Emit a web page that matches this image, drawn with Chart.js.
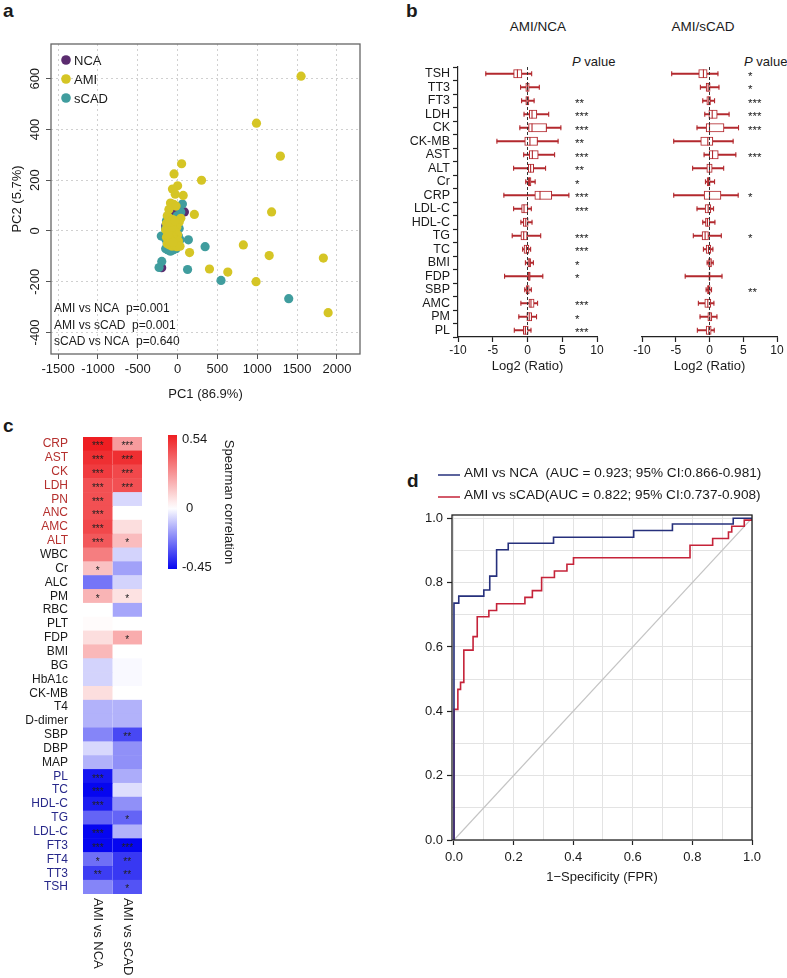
<!DOCTYPE html>
<html>
<head>
<meta charset="utf-8">
<title>Figure</title>
<script src="https://cdn.jsdelivr.net/npm/chart.js@4.4.1/dist/chart.umd.min.js"></script>
<style>
  body { margin: 0; background: #fff; font-family: "Liberation Sans", Arial, sans-serif; color: #1a1a1a; }
  #page { position: relative; width: 787px; height: 978px; overflow: hidden; }
  .panel { position: absolute; }
  .letter { position: absolute; font-size: 19px; font-weight: bold; }
  .txt { position: absolute; font-size: 13px; white-space: nowrap; }
  .center { transform: translateX(-50%); }
</style>
</head>
<body>
<div id="page">
  <div class="letter" style="left:3px;top:0px">a</div>
  <div class="letter" style="left:406px;top:0px">b</div>
  <div class="letter" style="left:3px;top:415px">c</div>
  <div class="letter" style="left:407px;top:470px">d</div>

  <div class="txt center" style="left:538px;top:19px;font-size:13.5px">AMI/NCA</div>
  <div class="txt center" style="left:703px;top:19px;font-size:13.5px">AMI/sCAD</div>
  <div class="txt" style="left:572px;top:54px"><i>P</i> value</div>
  <div class="txt" style="left:744px;top:54px"><i>P</i> value</div>

  <div class="panel" style="left:0;top:0;width:387px;height:410px"><canvas id="pca"></canvas></div>
  <div class="panel" style="left:390px;top:55px;width:220px;height:322px"><canvas id="boxNCA"></canvas></div>
  <div class="panel" style="left:620px;top:55px;width:167px;height:322px"><canvas id="boxSCAD"></canvas></div>
  <div class="panel" style="left:0;top:420px;width:260px;height:558px"><canvas id="heat"></canvas></div>
  <div class="panel" style="left:390px;top:460px;width:380px;height:435px"><canvas id="roc"></canvas></div>
</div>

<script>
// ---------- a: PCA scores ----------
const legendOrder = ["NCA", "AMI", "sCAD"];
const ncaPC1 = [-50, 85, -200, -100, -70, -120, -60, -40, -90, -140, -80, -30, -110, -20, -150, -95];
const ncaPC2 = [75, 75, -145, 10, -20, -40, 30, -10, 50, -10, -50, 20, -65, -45, 20, -25];
const amiPC1 = [1550, 990, 1290, 50, -45, 300, 0, -65, 70, -30, 1180, 210, 825, 1150, 1830, 150, 400, 630, 985, 1890,
  -90, -50, -20, -110, 40, 20, -130, -100, -60, -140, -110, -80, -40, -10, -150, -120, -90, -60, -30, 0,
  -140, -110, -80, -50, -20, 10, -130, -100, -70, -40, -10, 30, -85, -55, -125, -65, -95, -35];
const amiPC2 = [610, 425, 295, 265, 225, 200, 178, 165, 140, 145, 75, 65, -55, -97, -107, -85, -150, -162, -200, -322,
  110, 105, 98, 85, 50, 35, 60, 50, 45, 30, 25, 20, 25, 15, 5, 0, -5, 0, -5, -15,
  -25, -30, -30, -25, -35, -40, -50, -55, -60, -55, -62, -60, -40, -45, -15, 15, 35, 40];
const scadPC1 = [60, 40, -205, 135, 345, 125, 545, 1395, -199, -233,
  -140, -150, -130, -150, -120, -145, -140, -60, -20, 10, 20, 0, -45, -135, -155, -120, -140, -90, 30, -5];
const scadPC2 = [106, 75, -20, -35, -62, -152, -195, -267, -120, -144,
  -20, 10, -50, -70, -75, -35, 40, -75, -70, -20, 10, 40, -70, -5, -25, 55, 30, -80, -35, 60];
const pcaXTicks = [-1500, -1000, -500, 0, 500, 1000, 1500, 2000];
const pcaYTicks = [-400, -200, 0, 200, 400, 600];
const pcaTests = ["AMI vs NCA  p=0.001", "AMI vs sCAD  p=0.001", "sCAD vs NCA  p=0.640"];

// ---------- b: log2 ratio box plots ----------
const markers = ["TSH", "TT3", "FT3", "LDH", "CK", "CK-MB", "AST", "ALT", "Cr", "CRP",
  "LDL-C", "HDL-C", "TG", "TC", "BMI", "FDP", "SBP", "AMC", "PM", "PL"];
const ncaLo  = [-6.0, -1.0, -0.85, -0.5, -1.1, -4.4, -0.55, -2.0, -0.25, -3.4, -2.0, -0.95, -2.2, -0.7, -0.3, -3.3, -0.4, -0.95, -1.25, -1.9];
const ncaQ1  = [-2.0, -0.25, -0.25, 0.25, 0.15, -0.4, 0.25, 0.1, 0.1, 1.05, -0.85, -0.6, -0.95, -0.5, 0.05, 0.1, -0.2, 0.2, -0.1, -0.6];
const ncaMed = [-1.45, 0, -0.05, 0.65, 0.65, 0.35, 0.7, 0.45, 0.3, 1.8, -0.5, -0.25, -0.55, -0.15, 0.25, 0.25, 0, 0.5, 0.25, -0.3];
const ncaQ3  = [-0.8, 0.25, 0.2, 1.35, 2.75, 1.45, 1.55, 0.9, 0.5, 3.5, 0.05, 0.1, -0.05, 0.2, 0.45, 0.4, 0.25, 0.95, 0.6, 0.1];
const ncaHi  = [0.6, 1.7, 0.95, 3.05, 4.8, 4.4, 3.9, 2.6, 1.1, 5.95, 0.55, 0.65, 1.9, 0.45, 0.85, 2.2, 0.55, 1.45, 1.3, 0.5];
const ncaSig = ["", "", "**", "***", "***", "**", "***", "**", "*", "***", "***", "", "***", "***", "*", "*", "", "***", "*", "***"];
const scadLo  = [-5.6, -1.35, -1.0, -0.7, -1.85, -5.3, -0.8, -2.5, -0.6, -5.3, -1.85, -1.0, -2.4, -0.9, -0.35, -3.6, -0.5, -1.65, -1.4, -1.8];
const scadQ1  = [-1.6, -0.5, -0.4, -0.1, -0.5, -1.3, -0.05, -0.4, -0.35, -0.8, -0.65, -0.6, -1.1, -0.5, -0.15, -0.1, -0.3, -0.7, -0.25, -0.5];
const scadMed = [-0.9, -0.2, -0.1, 0.4, 0, -0.25, 0.45, 0, -0.15, 0, -0.2, -0.3, -0.65, -0.15, 0.05, 0, -0.15, -0.25, 0.05, -0.1];
const scadQ3  = [-0.35, 0.1, 0.15, 1.15, 2.15, 0.5, 1.3, 0.4, 0.1, 1.7, 0.2, 0.05, -0.15, 0.2, 0.3, 0.1, 0.1, 0.2, 0.35, 0.25];
const scadHi  = [1.25, 1.4, 0.75, 2.9, 4.3, 3.5, 3.9, 2.1, 0.75, 4.25, 0.6, 0.8, 1.75, 0.5, 0.55, 1.85, 0.3, 0.65, 1.1, 0.7];
const scadSig = ["*", "*", "***", "***", "***", "", "***", "", "", "*", "", "", "*", "", "", "", "**", "", "", ""];

// ---------- c: Spearman correlation heatmap ----------
const corrVars = ["CRP", "AST", "CK", "LDH", "PN", "ANC", "AMC", "ALT", "WBC", "Cr", "ALC", "PM", "RBC", "PLT", "FDP",
  "BMI", "BG", "HbA1c", "CK-MB", "T4", "D-dimer", "SBP", "DBP", "MAP", "PL", "TC", "HDL-C", "TG", "LDL-C",
  "FT3", "FT4", "TT3", "TSH"];
const corrNCA  = [0.54, 0.50, 0.47, 0.42, 0.42, 0.42, 0.44, 0.40, 0.31, 0.15, -0.25, 0.18, 0.0, 0.01, 0.08,
  0.17, -0.08, -0.08, 0.08, -0.14, -0.14, -0.22, -0.07, -0.14, -0.42, -0.45, -0.41, -0.28, -0.45,
  -0.45, -0.26, -0.35, -0.22];
const corrSCAD = [0.24, 0.50, 0.44, 0.42, -0.07, 0.0, 0.08, 0.16, -0.08, -0.17, -0.08, 0.07, -0.16, 0.0, 0.2,
  0.0, -0.01, -0.01, 0.0, -0.14, -0.14, -0.33, -0.2, -0.2, -0.15, -0.06, -0.2, -0.28, -0.14,
  -0.45, -0.36, -0.36, -0.31];
const sigCorrNCA  = ["***", "***", "***", "***", "***", "***", "***", "***", "", "*", "", "*", "", "", "",
  "", "", "", "", "", "", "", "", "", "***", "***", "***", "", "***", "***", "*", "**", ""];
const sigCorrSCAD = ["***", "***", "***", "***", "", "", "", "*", "", "", "", "*", "", "", "*",
  "", "", "", "", "", "", "**", "", "", "", "", "", "*", "", "***", "**", "**", "*"];
const upVars = ["CRP", "AST", "CK", "LDH", "PN", "ANC", "AMC", "ALT"];
const downVars = ["PL", "TC", "HDL-C", "TG", "LDL-C", "FT3", "FT4", "TT3", "TSH"];
const compLabels = ["AMI vs NCA", "AMI vs sCAD"];
const cbLimits = [-0.45, 0.54];
const cbTicks = [0.54, 0, -0.45];

// ---------- d: ROC ----------
const rocLabels = ["AMI vs NCA  (AUC = 0.923; 95% CI:0.866-0.981)", "AMI vs sCAD(AUC = 0.822; 95% CI:0.737-0.908)"];
const fprNCA = [0, 0, 0.016, 0.1, 0.12, 0.143, 0.182, 0.334, 0.603, 0.733, 0.937, 1.0];
const tprNCA = [0, 0.736, 0.758, 0.777, 0.82, 0.902, 0.922, 0.941, 0.962, 0.982, 1.0, 1.0];
const fprSCAD = [0, 0, 0.013, 0.022, 0.033, 0.064, 0.078, 0.117, 0.143, 0.238, 0.263, 0.294, 0.337, 0.379, 0.401,
  0.792, 0.868, 0.921, 0.932, 0.974, 1.0];
const tprSCAD = [0, 0.406, 0.468, 0.49, 0.59, 0.632, 0.694, 0.713, 0.734, 0.754, 0.775, 0.816, 0.836, 0.857, 0.877,
  0.916, 0.937, 0.957, 0.975, 0.994, 1.0];
const chanceX = [0, 1];
const chanceY = [0, 1];

// ---------- shared ----------
const FONT = "'Liberation Sans', Arial, sans-serif";
const INK = "#1a1a1a";
Chart.defaults.font.family = FONT;
Chart.defaults.font.size = 13;
Chart.defaults.color = INK;
Chart.defaults.animation = false;
Chart.defaults.events = [];
Chart.defaults.maintainAspectRatio = false;
Chart.defaults.plugins.legend.display = false;
Chart.defaults.plugins.tooltip.enabled = false;

// pin the axis box so the plot area lands where the figure has it
function fixSize(w, h) {
  return (scale) => {
    if (w !== null) scale.width = w;
    if (h !== null) scale.height = h;
    scale.paddingTop = scale.paddingBottom = scale.paddingLeft = scale.paddingRight = 0;
  };
}

const pts = (xs, ys) => xs.map((x, i) => ({ x, y: ys[i] }));
const useTicks = (list) => (scale) => { scale.ticks = list.map((v) => ({ value: v })); };

// ---------- a ----------
const pcaDecor = {
  id: "pcaDecor",
  afterDraw(chart) {
    const { ctx, chartArea: a, scales: { y } } = chart;
    ctx.save();
    ctx.strokeStyle = "#666";
    ctx.lineWidth = 1.3;
    ctx.strokeRect(a.left, a.top, a.right - a.left, a.bottom - a.top);

    ctx.fillStyle = INK;
    ctx.font = "13px " + FONT;
    ctx.textAlign = "center";
    ctx.textBaseline = "middle";
    y.ticks.forEach((t) => {
      ctx.save();
      ctx.translate(a.left - 16, y.getPixelForValue(t.value));
      ctx.rotate(-Math.PI / 2);
      ctx.fillText(String(t.value), 0, 0);
      ctx.restore();
    });

    ctx.textAlign = "left";
    legendOrder.forEach((name, i) => {
      const ds = chart.data.datasets.find((d) => d.label === name);
      const cy = a.top + 16 + i * 19;
      ctx.fillStyle = ds.backgroundColor;
      ctx.beginPath();
      ctx.arc(a.left + 15, cy, 4.8, 0, Math.PI * 2);
      ctx.fill();
      ctx.fillStyle = INK;
      ctx.fillText(name, a.left + 23, cy + 1);
    });

    ctx.font = "12px " + FONT;
    pcaTests.forEach((t, i) => ctx.fillText(t, a.left + 3, a.bottom - 45 + i * 16.5));
    ctx.restore();
  },
};

new Chart(document.getElementById("pca"), {
  type: "scatter",
  data: {
    datasets: [
      { label: "AMI", data: pts(amiPC1, amiPC2), backgroundColor: "#d5c525", borderWidth: 0, pointRadius: 4.6, order: 0 },
      { label: "sCAD", data: pts(scadPC1, scadPC2), backgroundColor: "#409d9e", borderWidth: 0, pointRadius: 4.6, order: 1 },
      { label: "NCA", data: pts(ncaPC1, ncaPC2), backgroundColor: "#5b2c6f", borderWidth: 0, pointRadius: 4.6, order: 2 },
    ],
  },
  options: {
    layout: { padding: { left: 0, top: 44, right: 27, bottom: 0 } },
    scales: {
      x: {
        min: -1590, max: 2290,
        afterBuildTicks: useTicks(pcaXTicks),
        ticks: { maxRotation: 0, padding: 3, font: { size: 13 }, autoSkip: false, callback: (v) => String(v) },
        grid: { color: "#d0d0d0", tickColor: "#555", tickLength: 5 },
        border: { display: false, dash: [2, 3] },
        title: { display: true, text: "PC1 (86.9%)", font: { size: 13 }, padding: { top: 0, bottom: 8 } },
        afterFit: fixSize(null, 56),
      },
      y: {
        min: -485, max: 737,
        afterBuildTicks: useTicks(pcaYTicks),
        ticks: { display: false, autoSkip: false },
        grid: { color: "#d0d0d0", tickColor: "#555", tickLength: 5 },
        border: { display: false, dash: [2, 3] },
        title: { display: true, text: "PC2 (5.7%)", font: { size: 13 }, padding: { top: 10, bottom: 0 } },
        afterFit: fixSize(51, null),
      },
    },
  },
  plugins: [pcaDecor],
});

// ---------- b ----------
const BOX_RED = "#b3292e";

function boxChart(id, lo, q1, med, q3, hi, sig, showLabels, padLeft, padRight, starOffset) {
  const decor = {
    id: "boxDecor",
    afterDatasetsDraw(chart) {
      const { ctx, chartArea: a, scales: { x, y } } = chart;
      const x0 = x.getPixelForValue(0);
      ctx.save();
      ctx.strokeStyle = "#333";
      ctx.lineWidth = 1;
      ctx.setLineDash([3, 2]);
      ctx.beginPath();
      ctx.moveTo(x0, a.top);
      ctx.lineTo(x0, a.bottom);
      ctx.stroke();
      ctx.setLineDash([]);
      ctx.fillStyle = INK;
      ctx.font = "11.5px " + FONT;
      ctx.textAlign = "left";
      ctx.textBaseline = "middle";
      sig.forEach((s, i) => ctx.fillText(s, a.right - starOffset, y.getPixelForValue(i) + 3));
      ctx.restore();
    },
  };

  const yScale = showLabels
    ? {
        ticks: { font: { size: 12.5 }, padding: 3, autoSkip: false },
        grid: { drawOnChartArea: false, tickLength: 5, tickColor: "#222", tickWidth: 1.2 },
        border: { display: true, color: "#222", width: 1.2 },
        afterFit: fixSize(68, null),
      }
    : { display: false };

  return new Chart(document.getElementById(id), {
    type: "bar",
    data: {
      labels: markers,
      datasets: [
        { data: markers.map((m, i) => [lo[i], hi[i]]), backgroundColor: BOX_RED, barThickness: 1.3, grouped: false, order: 3 },
        {
          data: markers.map((m, i) => [q1[i], q3[i]]), backgroundColor: "#fff", borderColor: BOX_RED,
          borderWidth: 1.1, borderSkipped: false, barThickness: 8.5, grouped: false, order: 2,
        },
        {
          type: "line", showLine: false,
          data: markers.flatMap((m, i) => [{ x: lo[i], y: m }, { x: hi[i], y: m }]),
          pointStyle: "line", rotation: 90, pointRadius: 2.6, pointBorderColor: BOX_RED, pointBorderWidth: 1.1,
          borderColor: BOX_RED, order: 1,
        },
        {
          type: "line", showLine: false,
          data: markers.map((m, i) => ({ x: med[i], y: m })),
          pointStyle: "line", rotation: 90, pointRadius: 4.2, pointBorderColor: BOX_RED, pointBorderWidth: 1.1,
          borderColor: BOX_RED, order: 0,
        },
      ],
    },
    options: {
      indexAxis: "y",
      layout: { padding: { left: padLeft, top: 12, right: padRight, bottom: 0 } },
      scales: {
        x: {
          min: -10, max: 10,
          ticks: { stepSize: 5, maxRotation: 0, padding: 1, font: { size: 12 } },
          grid: { drawOnChartArea: false, tickLength: 5, tickColor: "#222", tickWidth: 1.2 },
          border: { display: true, color: "#222", width: 1.2 },
          title: { display: true, text: "Log2 (Ratio)", font: { size: 13 }, padding: { top: 0, bottom: 3 } },
          afterFit: fixSize(null, 40),
        },
        y: yScale,
      },
    },
    plugins: [decor],
  });
}

boxChart("boxNCA", ncaLo, ncaQ1, ncaMed, ncaQ3, ncaHi, ncaSig, true, 0, 13, 22);
boxChart("boxSCAD", scadLo, scadQ1, scadMed, scadQ3, scadHi, scadSig, false, 22, 10, 29);

// ---------- c ----------
function corrColor(v) {
  const t = v >= 0 ? Math.min(v / cbLimits[1], 1) : Math.min(v / cbLimits[0], 1);
  const end = v >= 0 ? [238, 30, 34] : [6, 6, 240];
  const c = end.map((e) => Math.round(255 + (e - 255) * t));
  return `rgb(${c[0]},${c[1]},${c[2]})`;
}

function labelColor(name) {
  if (upVars.includes(name)) return "#b5302e";
  if (downVars.includes(name)) return "#27288a";
  return INK;
}

const heatDecor = {
  id: "heatDecor",
  afterDatasetsDraw(chart) {
    const { ctx, chartArea: a, scales: { x, y } } = chart;
    ctx.save();
    ctx.fillStyle = "#222";
    ctx.font = "10px " + FONT;
    ctx.textAlign = "center";
    ctx.textBaseline = "middle";
    corrVars.forEach((v, i) => {
      const py = y.getPixelForValue(i) + 2.5;
      ctx.fillText(sigCorrNCA[i], x.getPixelForValue(0.5), py);
      ctx.fillText(sigCorrSCAD[i], x.getPixelForValue(1.5), py);
    });

    ctx.fillStyle = INK;
    ctx.font = "13px " + FONT;
    ctx.textAlign = "left";
    compLabels.forEach((t, j) => {
      ctx.save();
      ctx.translate(x.getPixelForValue(j + 0.5), a.bottom + 4);
      ctx.rotate(Math.PI / 2);
      ctx.fillText(t, 0, 0);
      ctx.restore();
    });

    // colour bar
    const [cbMin, cbMax] = cbLimits;
    const top = a.top - 2, h = 134, bx = a.right + 26, bw = 9;
    const g = ctx.createLinearGradient(0, top, 0, top + h);
    for (let k = 0; k <= 20; k++) {
      g.addColorStop(k / 20, corrColor(cbMax - ((cbMax - cbMin) * k) / 20));
    }
    ctx.fillStyle = g;
    ctx.fillRect(bx, top, bw, h);
    ctx.fillStyle = INK;
    ctx.textBaseline = "middle";
    cbTicks.forEach((v) => {
      const py = top + ((cbMax - v) / (cbMax - cbMin)) * h;
      ctx.fillText(String(v), bx + bw + (v === 0 ? 9 : 5), Math.min(Math.max(py, top + 4), top + h - 2));
    });
    ctx.save();
    ctx.translate(bx + 61, top + 67);
    ctx.rotate(Math.PI / 2);
    ctx.textAlign = "center";
    ctx.fillText("Spearman correlation", 0, 0);
    ctx.restore();
    ctx.restore();
  },
};

new Chart(document.getElementById("heat"), {
  type: "bar",
  data: {
    labels: corrVars,
    datasets: [
      { data: corrVars.map(() => [0, 1]), backgroundColor: corrNCA.map(corrColor), grouped: false, barPercentage: 1.04, categoryPercentage: 1 },
      { data: corrVars.map(() => [1, 2]), backgroundColor: corrSCAD.map(corrColor), grouped: false, barPercentage: 1.04, categoryPercentage: 1 },
    ],
  },
  options: {
    indexAxis: "y",
    layout: { padding: { left: 0, top: 17, right: 118, bottom: 84 } },
    scales: {
      x: { min: 0, max: 2, display: false },
      y: {
        ticks: { font: { size: 12 }, padding: 7, autoSkip: false, color: (c) => labelColor(corrVars[c.index]) },
        grid: { display: false },
        border: { display: false },
        afterFit: fixSize(83, null),
      },
    },
  },
  plugins: [heatDecor],
});

// ---------- d ----------
const isMajor = (v) => Math.round(v * 10) % 2 === 0;

const rocDecor = {
  id: "rocDecor",
  afterDraw(chart) {
    const { ctx, chartArea: a } = chart;
    ctx.save();
    ctx.strokeStyle = "#222";
    ctx.lineWidth = 1.3;
    ctx.strokeRect(a.left, a.top, a.right - a.left, a.bottom - a.top);
    ctx.font = "13.6px " + FONT;
    ctx.textBaseline = "middle";
    ctx.textAlign = "left";
    chart.data.datasets.slice(0, 2).forEach((ds, i) => {
      const yy = 13 + i * 22;
      ctx.strokeStyle = ds.borderColor;
      ctx.lineWidth = 1.5;
      ctx.beginPath();
      ctx.moveTo(48, yy + 2);
      ctx.lineTo(70, yy + 2);
      ctx.stroke();
      ctx.fillStyle = INK;
      ctx.fillText(ds.label, 74, yy);
    });
    ctx.restore();
  },
};

const rocGrid = {
  color: "#e3e3e3",
  tickColor: (c) => (c.tick && isMajor(c.tick.value) ? "#222" : "rgba(0,0,0,0)"),
  tickLength: 5,
  tickWidth: 1.2,
};

new Chart(document.getElementById("roc"), {
  type: "scatter",
  data: {
    datasets: [
      { label: rocLabels[0], data: pts(fprNCA, tprNCA), showLine: true, stepped: true, borderColor: "#26307c", borderWidth: 1.6, pointRadius: 0, order: 0 },
      { label: rocLabels[1], data: pts(fprSCAD, tprSCAD), showLine: true, stepped: true, borderColor: "#c52339", borderWidth: 1.6, pointRadius: 0, order: 1 },
      { label: "chance", data: pts(chanceX, chanceY), showLine: true, borderColor: "#c4c4c4", borderWidth: 1.2, pointRadius: 0, order: 2 },
    ],
  },
  options: {
    layout: { padding: { left: 0, top: 55, right: 18, bottom: 0 } },
    scales: {
      x: {
        type: "linear", min: -0.0067, max: 1,
        ticks: { stepSize: 0.1, includeBounds: false, autoSkip: false, maxRotation: 0, padding: 5, font: { size: 13 },
          callback: (v) => (isMajor(v) ? v.toFixed(1) : "") },
        grid: rocGrid,
        border: { display: false },
        title: { display: true, text: "1\u2212Specificity (FPR)", font: { size: 13 }, padding: { top: 0, bottom: 10 } },
        afterFit: fixSize(null, 55),
      },
      y: {
        min: 0, max: 1.01,
        ticks: { stepSize: 0.1, includeBounds: false, autoSkip: false, padding: 4, font: { size: 13 },
          callback: (v) => (isMajor(v) ? v.toFixed(1) : "") },
        grid: rocGrid,
        border: { display: false },
        afterFit: fixSize(62, null),
      },
    },
  },
  plugins: [rocDecor],
});
</script>
</body>
</html>
